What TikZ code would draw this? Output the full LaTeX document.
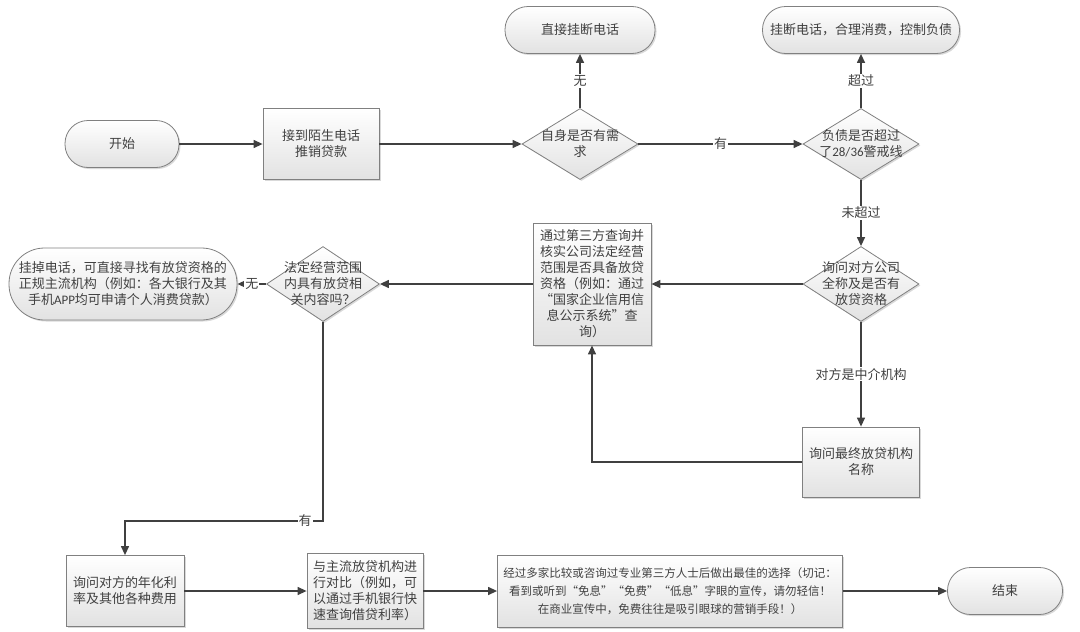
\documentclass[tikz,border=0pt]{standalone}
\usepackage{fontspec}
\setmainfont{Noto Sans CJK SC}
\newfontfamily\lat{Carlito}
\usetikzlibrary{arrows.meta,shapes.geometric,shadows,calc}
\definecolor{ink}{HTML}{404040}
\definecolor{edgegray}{HTML}{808080}
\definecolor{shadefill}{HTML}{E2E2E2}
\tikzset{
  base/.style={draw=edgegray, line width=0.8pt, top color=white, bottom color=shadefill,
    drop shadow={shadow xshift=1.5pt, shadow yshift=-1.5pt, opacity=0.3},
    align=center, inner sep=2pt, text=ink},
  boxn/.style={base, rectangle, minimum width=116pt, minimum height=71pt},
  term/.style={base, rectangle, rounded corners=23pt, minimum height=47pt},
  dia/.style={base, diamond, minimum width=116pt, minimum height=71pt, inner sep=0pt},
  dtext/.style={align=center, inner sep=0pt, text=ink},
  conn/.style={draw=ink, line width=1.3pt, -{Triangle[length=9pt,width=8pt]}},
  lbl/.style={fill=white, inner sep=1pt, text=ink}
}
\begin{document}
\begin{tikzpicture}[x=1pt, y=-1pt, font=\fontsize{13}{16}\selectfont]
\useasboundingbox (0,0) rectangle (1080,632);
\node[term, minimum width=114pt] (start) at (122,144) {开始};
\node[boxn] (b1) at (321,144) {接到陌生电话\\推销贷款};
\node[dia, label={[dtext]center:{自身是否有需\\求}}] (d1) at (580,144) {};
\node[term, minimum width=150pt] (t1) at (580,30) {直接挂断电话};
\node[term, minimum width=197pt] (t2) at (861,30) {挂断电话，合理消费，控制负债};
\node[dia, label={[dtext]center:{负债是否超过\\了{\lat 28/36}警戒线}}] (d2) at (861,144) {};
\node[dia, minimum height=75pt, label={[dtext]center:{询问对方公司\\全称及是否有\\放贷资格}}] (d3) at (861,284) {};
\node[boxn, minimum width=118pt, minimum height=122pt] (b3) at (592,284)
  {通过第三方查询并\\核实公司法定经营\\范围是否具备放贷\\资格（例如：通过\\“国家企业信用信\\息公示系统”查\\询）};
\node[boxn, minimum width=117pt, minimum height=70pt] (b4) at (861,462) {询问最终放贷机构\\名称};
\node[dia, minimum width=113pt, minimum height=75pt, label={[dtext]center:{法定经营范围\\内具有放贷相\\关内容吗？}}] (d4) at (323,284) {};
\node[term, rounded corners=35.5pt, minimum width=228pt, minimum height=72pt] (t3) at (123,284)
  {挂掉电话，可直接寻找有放贷资格的\\正规主流机构（例如：各大银行及其\\手机{\lat APP}均可申请个人消费贷款）};
\node[boxn, minimum width=118pt] (b5) at (125,591) {询问对方的年化利\\率及其他各种费用};
\node[boxn, minimum width=116pt, minimum height=75pt] (b6) at (365,591)
  {与主流放贷机构进\\行对比（例如，可\\以通过手机银行快\\速查询借贷利率）};
\node[boxn, minimum width=345pt, minimum height=72pt, font=\fontsize{11.5}{18}\selectfont] (b7) at (670,591)
  {经过多家比较或咨询过专业第三方人士后做出最佳的选择（切记：\\看到或听到“免息”“免费”“低息”字眼的宣传，请勿轻信！\\在商业宣传中，免费往往是吸引眼球的营销手段！）};
\node[term, minimum width=115pt] (end) at (1005,591) {结束};

\draw[conn] (start) -- (b1);
\draw[conn] (b1) -- (d1);
\draw[conn] (d1) -- node[lbl]{无} (t1);
\draw[conn] (d1) -- node[lbl]{有} (d2);
\draw[conn] (d2) -- node[lbl]{超过} (t2);
\draw[conn] (d2) -- node[lbl]{未超过} (d3);
\draw[conn] (d3) -- (b3);
\draw[conn] (d3) -- node[lbl]{对方是中介机构} (b4);
\draw[conn] (b4.west) -| (b3.south);
\draw[conn] (b3) -- (d4);
\draw[conn] (d4) -- node[lbl, pos=0.5]{无} (t3);
\coordinate (yes) at (200,521);
\draw[conn] (d4.south) -- (d4.south |- yes) -- node[lbl, pos=0.09]{有} (b5.north |- yes) -- (b5.north);
\draw[conn] (b5) -- (b6);
\draw[conn] (b6) -- (b7);
\draw[conn] (b7) -- (end);
\end{tikzpicture}
\end{document}
